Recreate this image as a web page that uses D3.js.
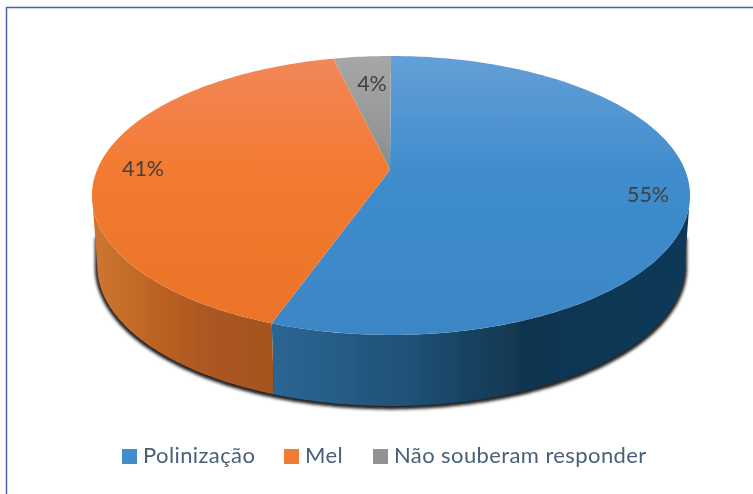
<!DOCTYPE html>
<html>
<head>
<meta charset="UTF-8">
<title>Pie</title>
<style>
html, body {
    margin: 0;
    padding: 0;
    background-color: #fdfdfd;
}
svg {
    display: block;
}
text {
    font-family: Lato, "Open Sans", sans-serif;
}
</style>
</head>
<body>
<div class="chart"></div>
<script src="https://cdn.jsdelivr.net/npm/d3@7/dist/d3.min.js"></script>
<script>
let categories = ['Polinização', 'Mel', 'Não souberam responder'];
let values = [55.45, 40.85, 3.7];
let topStops = [['#649fd8', '#3f8ccc', '#3c86c6'], ['#f2875a', '#f37a30', '#ea7328'], ['#a6a8a8', '#8c8c8c', '#888888']];
let wallStops = [['#2c6693', '#1f4f73', '#11364f', '#10385a'], ['#cc7530', '#bb6222', '#ad5820', '#a3531f']];
let labelPos = [[648, 194], [143, 168], [372, 83]];
let legendX = [122, 284, 373];

let width = 753, height = 494;
let cx = 391, cy = 170, k = 0.1827, ax = 294, ay = 134.8;
let depth = 71, bottomScale = 0.982, shadowLift = 30;

let svg = d3.select('.chart').append('svg')
    .attr('width', width)
    .attr('height', height);
let defs = svg.append('defs');

defs.append('filter').attr('id', 'shadow')
    .attr('x', '-5%').attr('y', '-5%').attr('width', '110%').attr('height', '110%')
    .append('feGaussianBlur').attr('stdDeviation', 1.6);
defs.append('filter').attr('id', 'soft')
    .append('feGaussianBlur').attr('stdDeviation', 0.55);

// pie angle -> point on the tilted disc
function project(a, low) {
    let u = Math.sin(a), v = -Math.cos(a);
    let w = 1 - k * v;
    let x = ax * u / w, y = cy + ay * v / w;
    return low ? [cx + x * bottomScale, y + depth] : [cx + x, y];
}

function sample(a0, a1, low) {
    let n = Math.max(2, Math.ceil(Math.abs(a1 - a0) * 60));
    return d3.range(n + 1).map((i) => project(a0 + (a1 - a0) * i / n, low));
}

let pie = d3.pie().sort(null);
let slices = pie(values);
let line = d3.line();
let legendColor = d3.scaleOrdinal().domain(categories).range(['#3f8ccc', '#f37a30', '#929292']);

let topGradY = d3.scaleLinear().domain([0, 1]).range([56, 335]);
slices.forEach((s, i) => {
    let g = defs.append('linearGradient').attr('id', 'top' + i)
        .attr('gradientUnits', 'userSpaceOnUse')
        .attr('x1', 0).attr('x2', 0)
        .attr('y1', topGradY(0)).attr('y2', topGradY(1));
    [0, 0.42, 1].forEach((o, j) => {
        g.append('stop').attr('offset', o).attr('stop-color', topStops[i][j]);
    });
});

// visible side of the wall, tangent to tilted disc
let tangent = Math.acos(-k);
let a0 = tangent, a1 = 2 * Math.PI - tangent;

let root = svg.append('g').attr('filter', 'url(#soft)');

root.append('rect')
    .attr('x', 6.5).attr('y', 7.5)
    .attr('width', width).attr('height', height)
    .attr('fill', '#fff')
    .attr('stroke', '#4a64a8')
    .attr('stroke-width', 1.5);

let lowEdge = sample(a0, a1, true);
let shadowPts = lowEdge.concat(lowEdge.slice().reverse().map((p) => [p[0], p[1] - shadowLift]));
root.append('path')
    .attr('d', line(shadowPts) + 'Z')
    .attr('transform', 'translate(0,1)')
    .attr('fill', '#222')
    .attr('stroke', '#222')
    .attr('stroke-width', 5)
    .attr('filter', 'url(#shadow)');

// walls: only the slices that reach the front
slices.forEach((s, i) => {
    let from = Math.max(s.startAngle, a0), to = Math.min(s.endAngle, a1);
    if (from >= to) return;
    let pts = sample(from, to, false).concat(sample(to, from, true));
    let x0 = i === 0 ? project(s.endAngle, true)[0] : project(a1, true)[0];
    let x1 = i === 0 ? project(a0, true)[0] : project(s.startAngle, true)[0];
    let g = defs.append('linearGradient').attr('id', 'wall' + i)
        .attr('gradientUnits', 'userSpaceOnUse')
        .attr('x1', x0).attr('x2', x1).attr('y1', 0).attr('y2', 0);
    [0, 0.35, 0.6, 1].forEach((o, j) => {
        g.append('stop').attr('offset', o).attr('stop-color', wallStops[i][j]);
    });
    root.append('path')
        .attr('d', line(pts) + 'Z')
        .attr('fill', 'url(#wall' + i + ')');
});

// top faces
slices.forEach((s, i) => {
    let pts = [[cx - 1, cy]].concat(sample(s.startAngle, s.endAngle, false));
    root.append('path')
        .attr('d', line(pts) + 'Z')
        .attr('fill', 'url(#top' + i + ')');
});

root.selectAll('.pct')
    .data(slices)
    .enter().append('text')
    .attr('class', 'pct')
    .attr('x', (d, i) => labelPos[i][0])
    .attr('y', (d, i) => labelPos[i][1] + 7.5)
    .attr('text-anchor', 'middle')
    .attr('font-size', 21.5)
    .attr('fill', '#404040')
    .text((d) => Math.round(d.value) + '%');

let legend = root.selectAll('.legend')
    .data(categories)
    .enter().append('g')
    .attr('class', 'legend')
    .attr('transform', (d, i) => 'translate(' + legendX[i] + ',449)');

legend.append('rect')
    .attr('width', 15)
    .attr('height', 15)
    .attr('fill', (d) => legendColor(d));

legend.append('text')
    .attr('x', 21)
    .attr('y', 14)
    .attr('font-size', 22)
    .attr('letter-spacing', 0.4)
    .attr('fill', '#4a6078')
    .text((d) => d);
</script>
</body>
</html>
